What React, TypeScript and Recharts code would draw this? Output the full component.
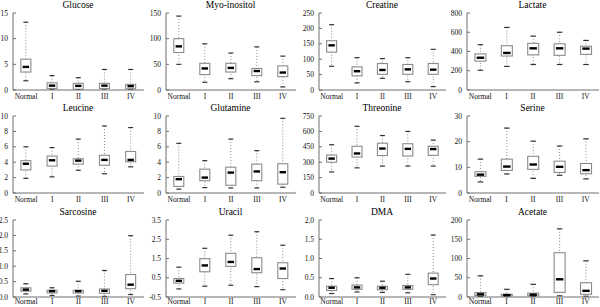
import React from 'react';
import { ComposedChart, Bar, XAxis, YAxis } from 'recharts';

const groups = ['Normal', 'I', 'II', 'III', 'IV'];

// five-number summaries per group: [min, q1, median, q3, max]
const glucose = [[1.8, 3.5, 4.5, 6.0, 13.2], [0.05, 0.3, 0.85, 1.4, 2.8], [0.0, 0.15, 0.8, 1.3, 2.4], [0.0, 0.3, 0.85, 1.3, 4.0], [0.05, 0.25, 0.75, 1.1, 4.0]];
const myoInositol = [[50, 73, 85, 100, 144], [15, 30, 42, 52, 90], [22, 35, 43, 52, 72], [16, 28, 37, 42, 84], [6, 26, 34, 47, 66]];
const creatine = [[77, 123, 145, 160, 212], [23, 46, 61, 75, 105], [38, 51, 65, 86, 102], [27, 51, 67, 83, 105], [11, 51, 66, 86, 132]];
const lactate = [[205, 300, 335, 375, 470], [245, 353, 385, 460, 650], [265, 365, 433, 485, 560], [265, 360, 433, 480, 600], [265, 370, 430, 455, 515]];
const leucine = [[1.9, 3.0, 3.8, 4.2, 6.0], [2.1, 3.5, 4.25, 4.8, 5.9], [2.95, 3.75, 4.2, 4.45, 7.0], [2.5, 3.6, 4.3, 4.9, 8.7], [3.4, 4.05, 4.3, 5.4, 8.5]];
const glutamine = [[0.5, 0.85, 1.8, 2.15, 6.45], [0.7, 1.6, 2.0, 3.1, 4.2], [0.65, 1.0, 2.65, 3.35, 7.0], [0.65, 1.6, 2.8, 3.75, 5.5], [0.75, 1.15, 2.7, 3.8, 9.7]];
const threonine = [[205, 300, 335, 370, 470], [245, 350, 385, 455, 650], [262, 365, 433, 485, 560], [262, 360, 430, 480, 600], [262, 367, 428, 455, 515]];
const serine = [[4.3, 6.5, 7.15, 8.3, 13.2], [7.4, 8.8, 10.3, 13.2, 25.3], [5.7, 9.2, 11.1, 14.3, 20.2], [6.9, 8.0, 10.2, 12.4, 18.3], [5.5, 7.5, 8.9, 11.5, 21.1]];
const sarcosine = [[0.1, 0.19, 0.24, 0.3, 0.43], [0.05, 0.13, 0.19, 0.22, 0.3], [0.03, 0.13, 0.19, 0.22, 0.51], [0.02, 0.12, 0.2, 0.26, 0.86], [0.08, 0.27, 0.4, 0.73, 1.99]];
const uracil = [[-0.08, 0.22, 0.34, 0.46, 1.05], [0.06, 0.81, 1.14, 1.49, 2.03], [0.11, 1.09, 1.32, 1.77, 2.71], [0.04, 0.76, 0.95, 1.54, 2.89], [-0.12, 0.46, 0.98, 1.28, 2.19]];
const dma = [[0.09, 0.17, 0.24, 0.28, 0.48], [0.13, 0.2, 0.25, 0.31, 0.5], [0.12, 0.19, 0.24, 0.28, 0.41], [0.11, 0.2, 0.25, 0.3, 0.59], [0.06, 0.32, 0.48, 0.62, 1.61]];
const acetate = [[1, 3.5, 7, 11.5, 55], [1, 3, 5, 7, 20], [1, 3, 6, 10, 33], [3, 12, 46, 115, 177], [2, 7, 16, 37, 94]];

const glucoseTicks = [0, 5, 10, 15];
const myoTicks = [0, 50, 100, 150];
const creatineTicks = [0, 50, 100, 150, 200, 250];
const lactateTicks = [0, 200, 400, 600, 800];
const tenTicks = [0, 2, 4, 6, 8, 10];
const threonineTicks = [0, 150, 300, 450, 600, 750];
const serineTicks = [0, 10, 20, 30];
const sarcosineTicks = [0, 0.5, 1.0, 1.5, 2.0, 2.5];
const uracilTicks = [-0.5, 0.5, 1.5, 2.5, 3.5];
const dmaTicks = [0, 0.5, 1.0, 1.5, 2.0];
const acetateTicks = [0, 50, 100, 150, 200];

const panels = [
  { title: 'Glucose', stats: glucose, ticks: glucoseTicks, dec: 0 },
  { title: 'Myo-inositol', stats: myoInositol, ticks: myoTicks, dec: 0 },
  { title: 'Creatine', stats: creatine, ticks: creatineTicks, dec: 0 },
  { title: 'Lactate', stats: lactate, ticks: lactateTicks, dec: 0 },
  { title: 'Leucine', stats: leucine, ticks: tenTicks, dec: 0 },
  { title: 'Glutamine', stats: glutamine, ticks: tenTicks, dec: 0 },
  { title: 'Threonine', stats: threonine, ticks: threonineTicks, dec: 0 },
  { title: 'Serine', stats: serine, ticks: serineTicks, dec: 0 },
  { title: 'Sarcosine', stats: sarcosine, ticks: sarcosineTicks, dec: 1 },
  { title: 'Uracil', stats: uracil, ticks: uracilTicks, dec: 1 },
  { title: 'DMA', stats: dma, ticks: dmaTicks, dec: 1 },
  { title: 'Acetate', stats: acetate, ticks: acetateTicks, dec: 0 },
];

const cols = [{ l: 13, r: 143 }, { l: 166, r: 295 }, { l: 319, r: 445 }, { l: 467, r: 598 }];
const rows = [{ t: 13, m: 4 }, { t: 116, m: 4 }, { t: 220, m: 1.5 }];
const PLOT_H = 77;
const Y_W = 26;
const X_H = 14;
const TOP = 6;
const FONT = '"Liberation Serif", "DejaVu Serif", "Times New Roman", serif';
const AXIS = '#6f6f6f';
const tickStyle = { fontSize: 7.5, fill: '#111', fontFamily: FONT };

const BoxShape = (props: any) => {
  const { x, y, width, height, payload } = props;
  const top = Math.min(y, y + height);
  const bottom = Math.max(y, y + height);
  const span = payload.max - payload.min || 1;
  const py = (v: number) => bottom - ((v - payload.min) / span) * (bottom - top);
  const cx = x + width / 2;
  const cap = width * 0.25;
  return (
    <g>
      <line x1={cx} x2={cx} y1={py(payload.max)} y2={py(payload.min)} stroke="#8c8c8c" strokeDasharray="1 2" />
      <rect x={x} y={py(payload.q3)} width={width} height={Math.max(py(payload.q1) - py(payload.q3), 1)} fill="#fff" stroke="#8a8a8a" strokeWidth={1.1} />
      <line x1={x + 1.8} x2={x + width - 1.8} y1={py(payload.median)} y2={py(payload.median)} stroke="#000" strokeWidth={2.4} />
      <line x1={cx - cap} x2={cx + cap} y1={py(payload.max)} y2={py(payload.max)} stroke="#333" strokeWidth={1.2} />
      <line x1={cx - cap} x2={cx + cap} y1={py(payload.min)} y2={py(payload.min)} stroke="#333" strokeWidth={1.2} />
    </g>
  );
};

function Panel({ p, col, row }: { p: typeof panels[number]; col: { l: number; r: number }; row: { t: number; m: number } }) {
  const plotW = col.r - col.l;
  const data = groups.map((g, i) => {
    const [min, q1, median, q3, max] = p.stats[i];
    return { group: g, range: [min, max], min, q1, median, q3, max };
  });
  const domain = [p.ticks[0], p.ticks[p.ticks.length - 1]];
  return (
    <>
      <div
        style={{
          position: 'absolute',
          left: col.l,
          top: row.t - 14,
          width: plotW,
          textAlign: 'center',
          fontFamily: FONT,
          fontSize: 9.5,
          lineHeight: '12px',
          color: '#000',
        }}
      >
        {p.title}
      </div>
      <div style={{ position: 'absolute', left: col.l - Y_W, top: row.t - TOP, fontFamily: FONT }}>
        <ComposedChart
          width={Y_W + plotW + 2}
          height={TOP + PLOT_H + X_H}
          data={data}
          margin={{ top: TOP, right: 1, left: 0, bottom: 0 }}
          barCategoryGap="30%"
          style={{ fontFamily: FONT }}
        >
          <XAxis
            xAxisId="grid"
            type="number"
            domain={[0, 5]}
            ticks={[1, 2, 3, 4]}
            tick={false}
            axisLine={false}
            tickSize={-3}
            height={0}
            stroke={AXIS}
            allowDataOverflow
          />
          <XAxis
            dataKey="group"
            tickLine={false}
            tickSize={0}
            tickMargin={row.m}
            height={X_H}
            interval={0}
            stroke={AXIS}
            tick={tickStyle}
          />
          <XAxis xAxisId="top" orientation="top" height={0} tick={false} tickLine={false} stroke={AXIS} />
          <YAxis
            type="number"
            domain={domain}
            ticks={p.ticks}
            width={Y_W}
            tickSize={-3}
            tickMargin={8}
            interval={0}
            allowDataOverflow
            stroke={AXIS}
            tickFormatter={(v: number) => v.toFixed(p.dec)}
            tick={tickStyle}
          />
          <YAxis yAxisId="right" orientation="right" width={0} tick={false} tickLine={false} stroke={AXIS} />
          <Bar dataKey="range" shape={BoxShape} isAnimationActive={false} />
        </ComposedChart>
      </div>
    </>
  );
}

export default function App() {
  return (
    <div style={{ position: 'absolute', left: 0, top: 0, width: 600, height: 307, background: '#fff', overflow: 'hidden' }}>
      {panels.map((p, i) => (
        <Panel key={p.title} p={p} col={cols[i % 4]} row={rows[Math.floor(i / 4)]} />
      ))}
    </div>
  );
}
